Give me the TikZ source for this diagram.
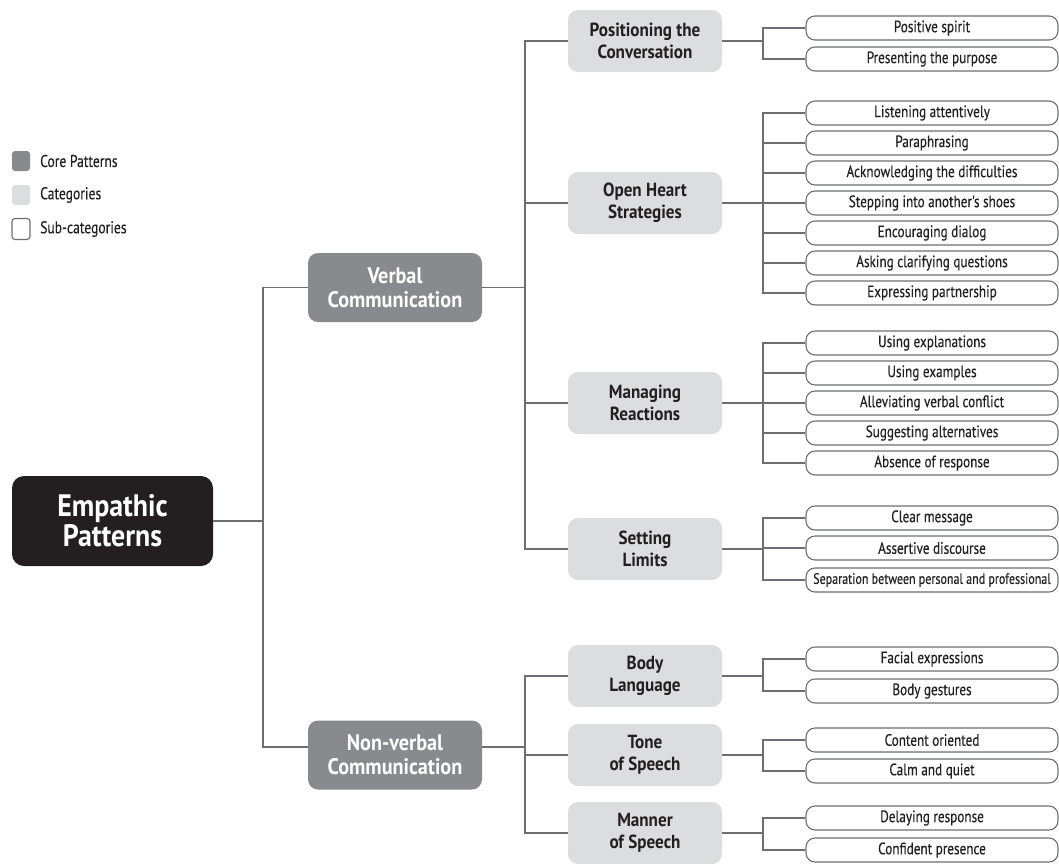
\documentclass[tikz,border=0pt]{standalone}
\usepackage{fontspec}
\setmainfont{PT Sans}
\newfontfamily\condfont[FakeStretch=0.8,FakeBold=0.3]{PT Sans}
\newfontfamily\headfont[FakeStretch=0.9]{PT Sans}
\definecolor{rootc}{HTML}{231F20}
\definecolor{corec}{HTML}{898A8D}
\definecolor{catc}{HTML}{DCDDDE}
\definecolor{linec}{HTML}{6D6E71}
\definecolor{textc}{HTML}{231F20}
\begin{document}
\begin{tikzpicture}[x=1pt,y=-1pt,
  rootbox/.style={fill=rootc, text=white, rounded corners=12pt, minimum width=201pt, minimum height=90pt, align=center, inner sep=0pt, font=\headfont\bfseries\fontsize{31}{30}\selectfont},
  corebox/.style={fill=corec, text=white, rounded corners=10pt, minimum width=174pt, minimum height=69pt, align=center, inner sep=0pt, font=\headfont\bfseries\fontsize{22.5}{24}\selectfont},
  catbox/.style={fill=catc, text=textc, rounded corners=10pt, minimum width=154pt, minimum height=62pt, align=center, inner sep=0pt, font=\headfont\bfseries\fontsize{19}{22}\selectfont},
  subbox/.style={draw=linec, line width=1.1pt, fill=white, rounded corners=9pt, minimum width=252pt, minimum height=24pt, inner sep=0pt, text=textc, font=\condfont\fontsize{16.5}{18}\selectfont},
  legbox/.style={rounded corners=3pt, minimum width=18pt, minimum height=20pt, inner sep=0pt},
  legtext/.style={anchor=west, inner sep=0pt, text=textc, font=\condfont\fontsize{17}{19}\selectfont},
  conn/.style={draw=linec, line width=1.1pt}
]
\useasboundingbox (0,0) rectangle (1059,863);

% legend
\node[legbox, fill=corec] (lg1) at (21,161) {};
\node[legbox, fill=catc] (lg2) at (21,195) {};
\node[legbox, draw=linec, line width=1.1pt, fill=white, minimum height=21pt] (lg3) at (21,229) {};
\node[legtext] (lt1) at (40,161) {Core Patterns};
\node[legtext] (lt2) at (40,195) {Categories};
\node[legtext] (lt3) at (40,229) {Sub-categories};

% root and core
\node[rootbox] (root) at (112.5,521) {Empathic\\Patterns};
\node[corebox] (verbal) at (395,287.5) {Verbal\\Communication};
\node[corebox] (nonverbal) at (395,755) {Non-verbal\\Communication};

% categories
\node[catbox] (c1) at (645,41) {Positioning the\\Conversation};
\node[catbox] (c2) at (645,203) {Open Heart\\Strategies};
\node[catbox] (c3) at (645,403) {Managing\\Reactions};
\node[catbox] (c4) at (645,549) {Setting\\Limits};
\node[catbox] (c5) at (645,676) {Body\\Language};
\node[catbox] (c6) at (645,755) {Tone\\of Speech};
\node[catbox] (c7) at (645,833) {Manner\\of Speech};

% sub-categories
\node[subbox] (s11) at (932,28) {Positive spirit};
\node[subbox] (s12) at (932,59) {Presenting the purpose};

\node[subbox] (s21) at (932,113) {Listening attentively};
\node[subbox] (s22) at (932,143) {Paraphrasing};
\node[subbox] (s23) at (932,173) {Acknowledging the difficulties};
\node[subbox] (s24) at (932,203) {Stepping into another's shoes};
\node[subbox] (s25) at (932,233) {Encouraging dialog};
\node[subbox] (s26) at (932,263) {Asking clarifying questions};
\node[subbox] (s27) at (932,293) {Expressing partnership};

\node[subbox] (s31) at (932,343) {Using explanations};
\node[subbox] (s32) at (932,373) {Using examples};
\node[subbox] (s33) at (932,403) {Alleviating verbal conflict};
\node[subbox] (s34) at (932,433) {Suggesting alternatives};
\node[subbox] (s35) at (932,463) {Absence of response};

\node[subbox] (s41) at (932,518) {Clear message};
\node[subbox] (s42) at (932,548) {Assertive discourse};
\node[subbox, font=\condfont\fontsize{15}{17}\selectfont] (s43) at (932,580) {Separation between personal and professional};

\node[subbox] (s51) at (932,659) {Facial expressions};
\node[subbox] (s52) at (932,691) {Body gestures};

\node[subbox] (s61) at (932,740) {Content oriented};
\node[subbox] (s62) at (932,771) {Calm and quiet};

\node[subbox] (s71) at (932,818) {Delaying response};
\node[subbox] (s72) at (932,850) {Confident presence};

% junction coordinates
\coordinate (jr) at (263,521);
\coordinate (jv) at (525,287.5);
\coordinate (jn) at (525,747);
\foreach \c in {1,...,7} {\coordinate (j\c) at (763,0 |- c\c.east);}

% root connectors
\draw[conn] (root.east) -- (jr);
\draw[conn] (verbal.west) -| (jr) |- ([yshift=8pt]nonverbal.west);

% core to categories
\draw[conn] (verbal.east) -- (jv);
\draw[conn] (c1.west) -| (jv);
\draw[conn] (c4.west) -| (jv);
\draw[conn] (jv |- c2.west) -- (c2.west);
\draw[conn] (jv |- c3.west) -- (c3.west);

\draw[conn] ([yshift=8pt]nonverbal.east) -- (jn);
\draw[conn] (c5.west) -| (jn);
\draw[conn] (c7.west) -| (jn);
\draw[conn] (jn |- c6.west) -- (c6.west);

% categories to sub-categories
\draw[conn] (c1.east) -- (j1);
\draw[conn] (s11.west) -| (j1) |- (s12.west);

\draw[conn] (c2.east) -- (j2);
\draw[conn] (s21.west) -| (j2) |- (s27.west);
\foreach \s in {22,23,24,25,26} {\draw[conn] (j2 |- s\s.west) -- (s\s.west);}

\draw[conn] (c3.east) -- (j3);
\draw[conn] (s31.west) -| (j3) |- (s35.west);
\foreach \s in {32,33,34} {\draw[conn] (j3 |- s\s.west) -- (s\s.west);}

\draw[conn] (c4.east) -- (j4);
\draw[conn] (s41.west) -| (j4) |- (s43.west);
\draw[conn] (j4 |- s42.west) -- (s42.west);

\draw[conn] (c5.east) -- (j5);
\draw[conn] (s51.west) -| (j5) |- (s52.west);

\draw[conn] (c6.east) -- (j6);
\draw[conn] (s61.west) -| (j6) |- (s62.west);

\draw[conn] (c7.east) -- (j7);
\draw[conn] (s71.west) -| (j7) |- (s72.west);
\end{tikzpicture}
\end{document}
